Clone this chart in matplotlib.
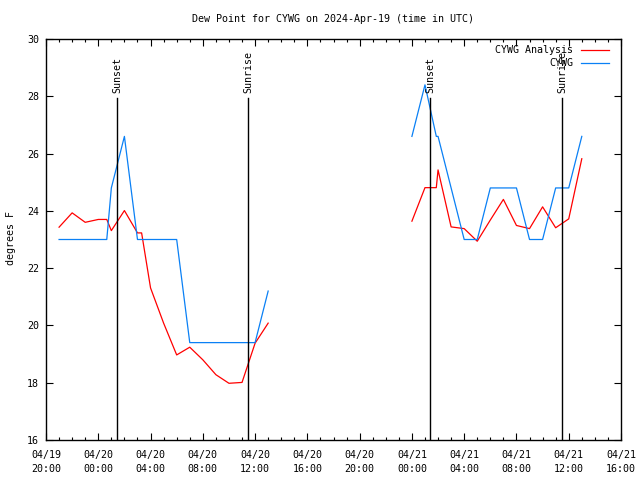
import pandas as pd
import matplotlib
matplotlib.use("Agg")
import matplotlib.pyplot as plt
import matplotlib.dates as mdates

# Serie del primer tramo (04/19 - 04/20)
times_1 = ["2024-04-19 21:00", "2024-04-19 22:00", "2024-04-19 23:00", "2024-04-20 00:00",
           "2024-04-20 00:39", "2024-04-20 01:00", "2024-04-20 02:00", "2024-04-20 03:00",
           "2024-04-20 03:19", "2024-04-20 04:00", "2024-04-20 05:00", "2024-04-20 06:00",
           "2024-04-20 07:00", "2024-04-20 08:00", "2024-04-20 09:00", "2024-04-20 10:00",
           "2024-04-20 11:00", "2024-04-20 12:00", "2024-04-20 13:00"]
analysis_1 = [23.43, 23.93, 23.6, 23.7, 23.7, 23.31, 24.01, 23.23, 23.23, 21.31, 20.08,
              18.97, 19.24, 18.8, 18.28, 17.98, 18.01, 19.38, 20.08]
obs_1 = [23.0, 23.0, 23.0, 23.0, 23.0, 24.8, 26.6, 23.0, 23.0, 23.0, 23.0,
         23.0, 19.4, 19.4, 19.4, 19.4, 19.4, 19.4, 21.2]

# Serie del segundo tramo (04/21)
times_2 = ["2024-04-21 00:00", "2024-04-21 01:00", "2024-04-21 01:52", "2024-04-21 02:00",
           "2024-04-21 03:00", "2024-04-21 04:00", "2024-04-21 05:00", "2024-04-21 06:00",
           "2024-04-21 07:00", "2024-04-21 08:00", "2024-04-21 09:00", "2024-04-21 10:00",
           "2024-04-21 11:00", "2024-04-21 12:00", "2024-04-21 13:00"]
analysis_2 = [23.64, 24.81, 24.81, 25.43, 23.44, 23.38, 22.94, 23.68, 24.4, 23.49,
              23.38, 24.14, 23.41, 23.72, 25.82]
obs_2 = [26.6, 28.4, 26.6, 26.6, 24.8, 23.0, 23.0, 24.8, 24.8, 24.8,
         23.0, 23.0, 24.8, 24.8, 26.6]

# Salida y puesta del sol
sun_times = ["2024-04-20 01:27", "2024-04-20 11:29", "2024-04-21 01:25", "2024-04-21 11:31"]
sun_labels = ["Sunset", "Sunrise", "Sunset", "Sunrise"]

red = "#ff0000"
blue = "#0a80f5"
font = "DejaVu Sans Mono"
fs = 7.2

plt.rcParams["font.family"] = font
fig = plt.figure(figsize=(6.4, 4.8), dpi=100)
ax = fig.add_axes([46 / 640, 1 - 440 / 480, 575 / 640, 401 / 480])

for t, a, o in [(times_1, analysis_1, obs_1), (times_2, analysis_2, obs_2)]:
    t = pd.to_datetime(t)
    ax.plot(t, a, color=red, lw=0.9)
    ax.plot(t, o, color=blue, lw=0.9)

for st, lab in zip(pd.to_datetime(sun_times), sun_labels):
    ax.plot([st, st], [16, 27.93], color="black", lw=1)
    ax.text(st, 28.12, lab, rotation=90, ha="center", va="bottom", fontsize=fs)

ax.set_ylim(16, 30)
ax.set_xlim(pd.Timestamp("2024-04-19 20:00"), pd.Timestamp("2024-04-21 16:00"))
ax.set_yticks(range(16, 31, 2))
ax.xaxis.set_major_locator(mdates.HourLocator(byhour=[0, 4, 8, 12, 16, 20]))
ax.xaxis.set_minor_locator(mdates.HourLocator())
ax.xaxis.set_major_formatter(mdates.DateFormatter("%m/%d\n%H:%M"))
ax.tick_params(which="both", direction="in", top=True, right=True, labelsize=fs, width=0.8)
ax.tick_params(which="major", length=5)
ax.tick_params(which="minor", length=2.5)
ax.tick_params(axis="x", pad=7)
ax.tick_params(axis="y", pad=5)
for sp in ax.spines.values():
    sp.set_linewidth(1)

fig.canvas.draw()
for lbl in ax.get_xticklabels():
    lbl.set_linespacing(1.5)

# Leyenda estilo gnuplot (texto alineado a la derecha)
ax.text(0.9165, 0.9726, "CYWG Analysis", transform=ax.transAxes, ha="right", va="center", fontsize=fs)
ax.text(0.9165, 0.940, "CYWG", transform=ax.transAxes, ha="right", va="center", fontsize=fs)
ax.plot([0.930, 0.979], [0.9726, 0.9726], color=red, lw=0.9, transform=ax.transAxes)
ax.plot([0.930, 0.979], [0.940, 0.940], color=blue, lw=0.9, transform=ax.transAxes)

fig.text(333 / 640, 1 - 19 / 480, "Dew Point for CYWG on 2024-Apr-19 (time in UTC)",
         ha="center", va="center", fontsize=fs)
fig.text(11.5 / 640, 1 - 238 / 480, "degrees F", rotation=90, ha="center", va="center", fontsize=fs)

fig.savefig("out.png", dpi=100)
